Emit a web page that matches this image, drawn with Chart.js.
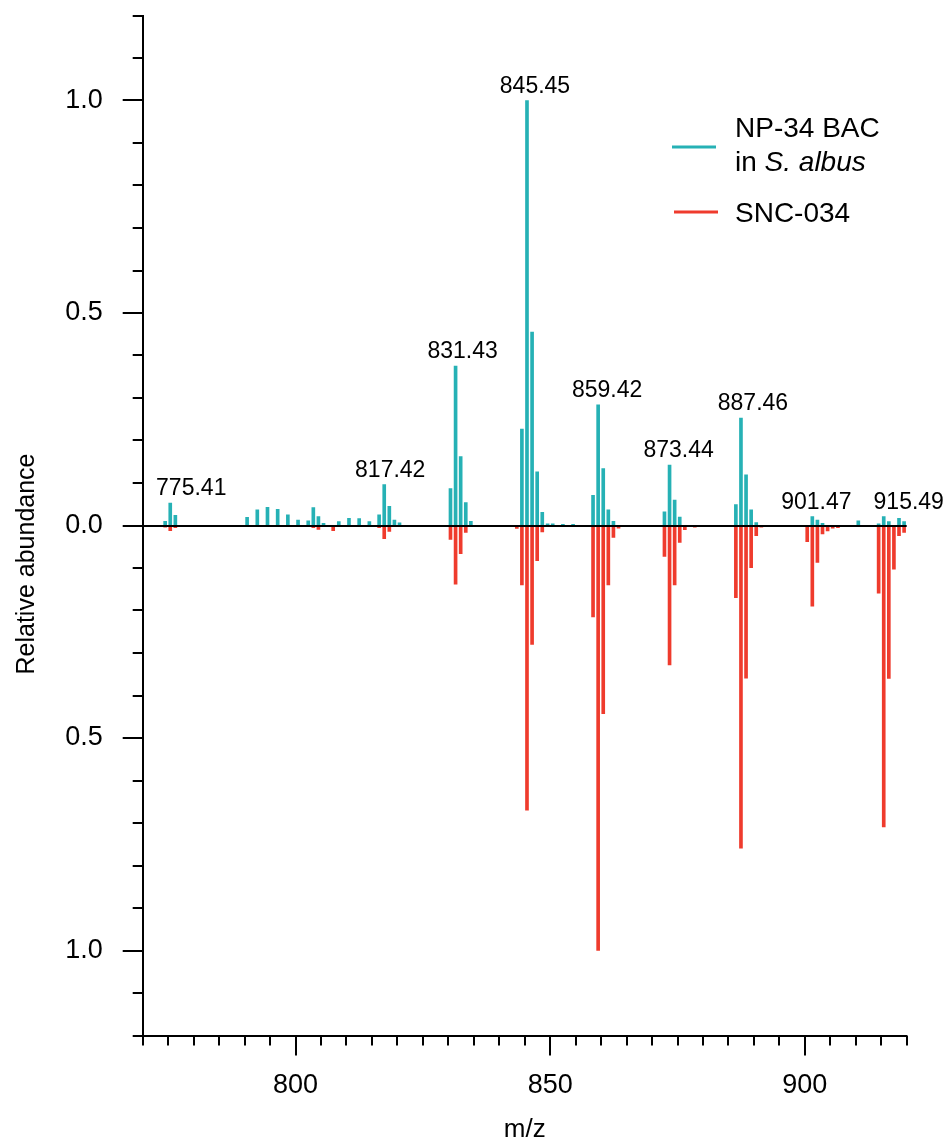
<!DOCTYPE html>
<html>
<head>
<meta charset="utf-8">
<script src="https://cdn.jsdelivr.net/npm/chart.js@4.4.0/dist/chart.umd.min.js"></script>
<style>
  html, body { margin: 0; padding: 0; background: #fff; }
  #wrap { width: 946px; height: 1145px; position: relative; }
</style>
</head>
<body>
<div id="wrap"><canvas id="c" width="946" height="1145"></canvas></div>
<script>
// ---------------- data ----------------
const mz = [774.41, 775.41, 776.41,
  790.5, 792.5, 794.5, 796.5, 798.5, 800.5, 802.5, 803.5, 804.5, 805.5,
  807.4, 808.5, 810.5, 812.5, 814.5,
  816.42, 817.42, 818.42, 819.42, 820.42,
  830.43, 831.43, 832.43, 833.43, 834.43,
  843.45, 844.45, 845.45, 846.45, 847.45, 848.45, 849.5, 850.5, 852.5, 854.5,
  858.42, 859.42, 860.42, 861.42, 862.42, 863.42,
  872.44, 873.44, 874.44, 875.44, 876.44, 878.4,
  886.46, 887.46, 888.46, 889.46, 890.46, 891.46,
  900.47, 901.47, 902.47, 903.47, 904.47, 905.47, 906.5, 910.5,
  914.49, 915.49, 916.49, 917.49, 918.49, 919.49];

const npBac = [0.010, 0.053, 0.024,
  0.019, 0.037, 0.043, 0.038, 0.025, 0.013, 0.011, 0.042, 0.021, 0.005,
  0, 0.009, 0.017, 0.016, 0.009,
  0.025, 0.096, 0.045, 0.013, 0.006,
  0.087, 0.375, 0.162, 0.054, 0.010,
  0, 0.227, 1.0, 0.455, 0.126, 0.031, 0.004, 0.004, 0.003, 0.003,
  0.071, 0.284, 0.134, 0.037, 0.010, 0,
  0.032, 0.142, 0.060, 0.020, 0, 0,
  0.049, 0.253, 0.119, 0.037, 0.007, 0,
  0, 0.021, 0.013, 0.005, 0, 0, 0, 0.011,
  0.004, 0.021, 0.009, 0, 0.017, 0.009];

const snc034 = [0.004, 0.012, 0.005,
  0, 0, 0, 0, 0, 0, 0.002, 0.005, 0.009, 0,
  0.012, 0, 0, 0, 0,
  0.005, 0.031, 0.014, 0, 0,
  0.033, 0.138, 0.066, 0.016, 0.002,
  0.007, 0.14, 0.67, 0.28, 0.083, 0.015, 0, 0, 0, 0,
  0.215, 1.0, 0.443, 0.14, 0.028, 0.006,
  0.073, 0.328, 0.14, 0.040, 0.010, 0.004,
  0.17, 0.759, 0.359, 0.099, 0.024, 0.004,
  0.038, 0.19, 0.087, 0.020, 0.013, 0.006, 0.005, 0,
  0.159, 0.709, 0.36, 0.103, 0.024, 0.016];

const peakLabels = ['775.41', '817.42', '831.43', '845.45', '859.42', '873.44', '887.46', '901.47', '915.49'];

const xTickValues = [800, 850, 900];
const xTickLabels = ['800', '850', '900'];
const yTickValues = [-1.0, -0.5, 0, 0.5, 1.0];
const yTickLabels = ['1.0', '0.5', '0.0', '0.5', '1.0'];

const seriesNames = ['NP-34 BAC in S. albus', 'SNC-034'];
const yTitle = 'Relative abundance';
const xTitle = 'm/z';

// ---------------- style ----------------
const TEAL = '#26B1B5';
const RED = '#EF3B2D';
const FONT = '"Liberation Sans", Arial, Helvetica, sans-serif';
const labelOffsets = [21, 6, 7, 8, 9, 9, 12, 4, 25];

Chart.defaults.font.family = FONT;
Chart.defaults.color = '#000';

const tickMarks = {
  id: 'tickMarks',
  afterDraw(chart) {
    const ctx = chart.ctx;
    const xs = chart.scales.x, ys = chart.scales.y;
    const area = chart.chartArea;
    ctx.save();
    ctx.strokeStyle = '#000';
    ctx.lineWidth = 2;
    ctx.beginPath();
    for (let i = -12; i <= 12; i++) {
      const v = i / 10;
      const major = yTickValues.some(t => Math.abs(t - v) < 1e-9);
      const len = major ? 20 : 10;
      const py = Math.round(ys.getPixelForValue(v));
      ctx.moveTo(area.left - len, py);
      ctx.lineTo(area.left, py);
    }
    for (let v = xs.min; v <= xs.max + 1e-9; v += 5) {
      const major = xTickValues.includes(Math.round(v));
      const len = major ? 20 : 10;
      const px = Math.round(xs.getPixelForValue(v));
      ctx.moveTo(px, area.bottom);
      ctx.lineTo(px, area.bottom + len);
    }
    ctx.stroke();
    ctx.fillStyle = '#000';
    ctx.font = '25px ' + FONT;
    ctx.textAlign = 'center';
    ctx.textBaseline = 'middle';
    ctx.translate(27, 564);
    ctx.rotate(-Math.PI / 2);
    ctx.fillText(yTitle, 0, 0);
    ctx.restore();
  }
};

const zeroAndLabels = {
  id: 'zeroAndLabels',
  afterDatasetsDraw(chart) {
    const ctx = chart.ctx;
    const xs = chart.scales.x, ys = chart.scales.y;
    const area = chart.chartArea;
    ctx.save();
    const y0 = Math.round(ys.getPixelForValue(0));
    ctx.strokeStyle = '#000';
    ctx.lineWidth = 2;
    ctx.beginPath();
    ctx.moveTo(area.left, y0);
    ctx.lineTo(area.right, y0);
    ctx.stroke();
    ctx.fillStyle = '#000';
    ctx.font = '23px ' + FONT;
    ctx.textAlign = 'center';
    ctx.textBaseline = 'alphabetic';
    peakLabels.forEach((lab, k) => {
      const v = parseFloat(lab);
      let best = 0;
      mz.forEach((m, i) => { if (Math.abs(m - v) < Math.abs(mz[best] - v)) best = i; });
      const px = xs.getPixelForValue(mz[best]) + labelOffsets[k];
      const py = ys.getPixelForValue(npBac[best]) - 8;
      ctx.fillText(lab, px, py);
    });
    ctx.restore();
  }
};

const customLegend = {
  id: 'customLegend',
  afterDraw(chart) {
    const ctx = chart.ctx;
    ctx.save();
    ctx.lineWidth = 3;
    ctx.strokeStyle = TEAL;
    ctx.beginPath(); ctx.moveTo(672, 147); ctx.lineTo(716, 147); ctx.stroke();
    ctx.strokeStyle = RED;
    ctx.beginPath(); ctx.moveTo(674, 212); ctx.lineTo(718, 212); ctx.stroke();
    ctx.fillStyle = '#000';
    ctx.textAlign = 'left';
    ctx.textBaseline = 'middle';
    ctx.font = '28px ' + FONT;
    ctx.fillText('NP-34 BAC', 735, 129);
    const w = ctx.measureText('in ').width;
    ctx.fillText('in ', 735, 163);
    ctx.font = 'italic 28px ' + FONT;
    ctx.fillText('S. albus', 735 + w, 163);
    ctx.font = '28px ' + FONT;
    ctx.fillText('SNC-034', 735, 214);
    ctx.restore();
  }
};

new Chart(document.getElementById('c').getContext('2d'), {
  type: 'bar',
  data: {
    datasets: [
      {
        label: seriesNames[0],
        data: mz.map((x, i) => ({ x: x, y: npBac[i] })),
        backgroundColor: TEAL,
        grouped: false,
        barThickness: 3
      },
      {
        label: seriesNames[1],
        data: mz.map((x, i) => ({ x: x, y: -snc034[i] })),
        backgroundColor: RED,
        grouped: false,
        barThickness: 3
      }
    ]
  },
  options: {
    responsive: false,
    animation: false,
    layout: { padding: { top: 15.5, right: 39.3, left: 0, bottom: 0 } },
    plugins: { legend: { display: false }, tooltip: { enabled: false } },
    scales: {
      x: {
        type: 'linear',
        min: 770,
        max: 920,
        offset: false,
        afterBuildTicks: (s) => { s.ticks = xTickValues.map(v => ({ value: v })); },
        afterFit: (s) => { s.height = 109.5; s.paddingLeft = 0; s.paddingRight = 0; },
        ticks: {
          callback: (v, i) => xTickLabels[i],
          font: { size: 27 },
          color: '#000',
          padding: 34,
          maxRotation: 0,
          autoSkip: false
        },
        grid: { display: false, drawTicks: false },
        border: { display: true, color: '#000', width: 2 },
        title: { display: true, text: xTitle, font: { size: 26 }, color: '#000', padding: { top: 0, bottom: 0 } }
      },
      y: {
        type: 'linear',
        min: -1.2,
        max: 1.2,
        afterBuildTicks: (s) => { s.ticks = yTickValues.map(v => ({ value: v })); },
        afterFit: (s) => { s.width = 142.7; s.paddingTop = 0; s.paddingBottom = 0; },
        ticks: {
          callback: (v, i) => yTickLabels[i],
          font: { size: 27 },
          color: '#000',
          padding: 40,
          autoSkip: false
        },
        grid: { display: false, drawTicks: false },
        border: { display: true, color: '#000', width: 2 },
        title: { display: false }
      }
    }
  },
  plugins: [tickMarks, zeroAndLabels, customLegend]
});
</script>
</body>
</html>
